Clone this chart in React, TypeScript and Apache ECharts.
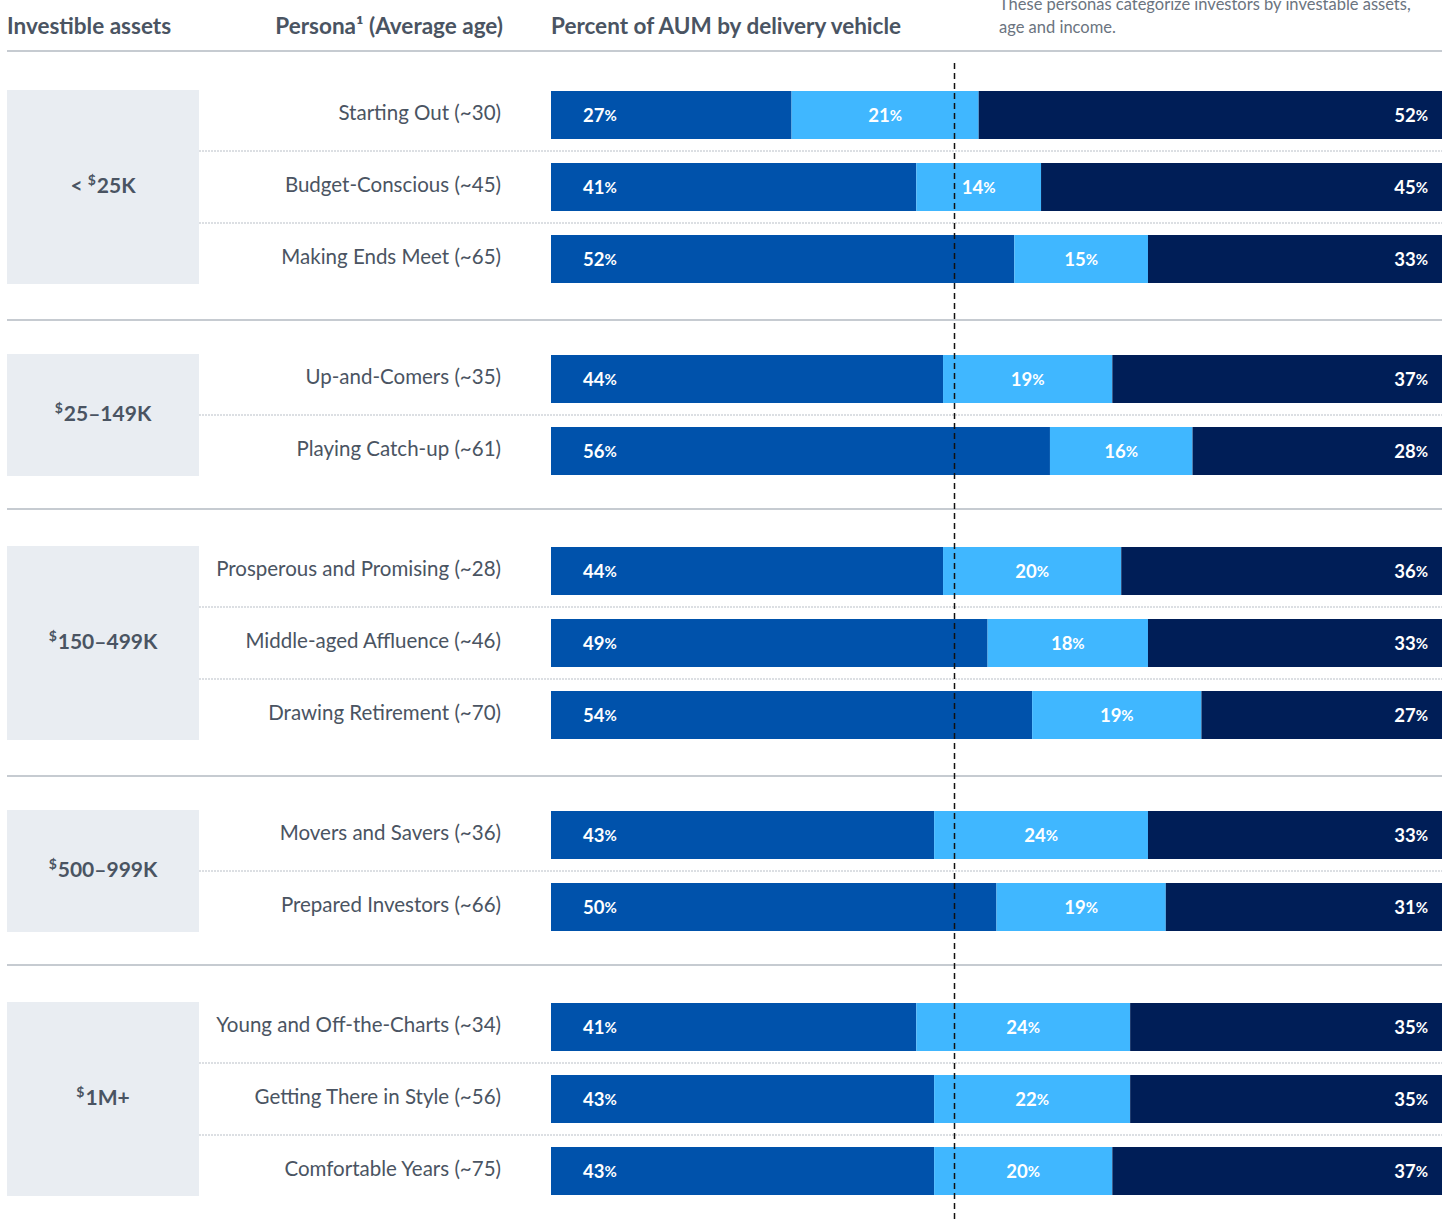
import React, { useEffect, useRef } from 'react';
import * as echarts from 'echarts';

// ---- data ----
const groupLabels = ['< $25K', '$25–149K', '$150–499K', '$500–999K', '$1M+'];
const groupSizes = [3, 2, 3, 2, 3];
const personas = [
  'Starting Out (~30)',
  'Budget-Conscious (~45)',
  'Making Ends Meet (~65)',
  'Up-and-Comers (~35)',
  'Playing Catch-up (~61)',
  'Prosperous and Promising (~28)',
  'Middle-aged Affluence (~46)',
  'Drawing Retirement (~70)',
  'Movers and Savers (~36)',
  'Prepared Investors (~66)',
  'Young and Off-the-Charts (~34)',
  'Getting There in Style (~56)',
  'Comfortable Years (~75)',
];
const vehicle1 = [27, 41, 52, 44, 56, 44, 49, 54, 43, 50, 41, 43, 43];
const vehicle2 = [21, 14, 15, 19, 16, 20, 18, 19, 24, 19, 24, 22, 20];
const vehicle3 = [52, 45, 33, 37, 28, 36, 33, 27, 33, 31, 35, 35, 37];
const referenceLine = 45.2;

// ---- styles / layout ----
const FONT = 'Lato, "Open Sans", sans-serif';
const TEXT = '#4a5462';
const COLORS = ['#0052ab', '#40b7ff', '#001e57'];
const groupTops = [79, 343, 535, 799, 991];
const ROW = 72;
const BAR_LEFT = 551;
const W = 1442;
const H = 1221;

export default function App() {
  const ref = useRef<HTMLDivElement>(null);
  useEffect(() => {
    if (!ref.current) return;
    const chart = echarts.init(ref.current, undefined, { renderer: 'svg' });
    const grids: any[] = [];
    const xAxes: any[] = [];
    const yAxes: any[] = [];
    const series: any[] = [];
    const graphics: any[] = [];
    let start = 0;
    const vals = [vehicle1, vehicle2, vehicle3];
    groupSizes.forEach((n, g) => {
      const top = groupTops[g];
      grids.push({ left: BAR_LEFT, width: W - BAR_LEFT, top, height: n * ROW, containLabel: false });
      xAxes.push({ gridIndex: g, type: 'value', min: 0, max: 100, show: false });
      yAxes.push({
        gridIndex: g,
        type: 'category',
        inverse: true,
        data: personas.slice(start, start + n),
        axisLine: { show: false },
        axisTick: { show: false },
        splitLine: { show: false },
        axisLabel: {
          margin: 50,
          formatter: (v: string) => `{a|${v}}`,
          rich: {
            a: {
              fontSize: 20.5,
              color: TEXT,
              fontFamily: FONT,
              lineHeight: 24,
              padding: [0, 0, 6, 0],
            },
          },
        },
      });
      vals.forEach((arr, k) => {
        series.push({
          type: 'bar',
          name: 'Vehicle ' + (k + 1),
          xAxisIndex: g,
          yAxisIndex: g,
          stack: 'g' + g,
          barWidth: 48,
          itemStyle: { color: COLORS[k] },
          data: arr.slice(start, start + n),
          label: {
            show: true,
            position: k === 0 ? 'insideLeft' : k === 1 ? 'inside' : 'insideRight',
            distance: k === 0 ? 32 : k === 2 ? 14 : 5,
            formatter: (p: any) => `{v|${p.value}}{p|%}`,
            rich: {
              v: { fontSize: 18.5, fontWeight: 'bold', color: '#fff', fontFamily: FONT },
              p: { fontSize: 15, fontWeight: 'bold', color: '#fff', fontFamily: FONT },
            },
          },
        });
      });
      // gray box
      graphics.push({
        type: 'rect',
        shape: { x: 7, y: top + 11, width: 192, height: n * ROW - 22 },
        style: { fill: '#e9edf2' },
        z: 0,
      });
      const lbl = groupLabels[g];
      const m = lbl.match(/^(< )?\$(.*)$/);
      const richText = m ? `${m[1] ? '{t|< }' : ''}{s|$}{t|${m[2]}}` : `{t|${lbl}}`;
      graphics.push({
        type: 'text',
        x: 103,
        y: top + (n * ROW) / 2 - 3,
        style: {
          text: richText,
          align: 'center',
          verticalAlign: 'middle',
          rich: {
            t: { fontSize: 21, fontWeight: 'bold', fill: TEXT, fontFamily: FONT, lineHeight: 24 },
            s: { fontSize: 14, fontWeight: 'bold', fill: TEXT, fontFamily: FONT, lineHeight: 24, padding: [0, 1, 10, 0] },
          },
        },
        z: 5,
      });
      for (let i = 1; i < n; i++) {
        graphics.push({
          type: 'line',
          shape: { x1: 199, y1: top + i * ROW, x2: W, y2: top + i * ROW },
          style: { stroke: '#b9bfc7', lineWidth: 1, lineDash: [2, 1] },
          z: 1,
        });
      }
      start += n;
    });
    // separators
    [51, 320, 509, 776, 965].forEach((y) => {
      graphics.push({
        type: 'line',
        shape: { x1: 7, y1: y, x2: W, y2: y },
        style: { stroke: '#c6cbd1', lineWidth: 2 },
        z: 1,
      });
    });
    // headers
    const hStyle = { fontSize: 22.5, fontWeight: 'bold', fill: TEXT, fontFamily: FONT, verticalAlign: 'middle' };
    graphics.push({ type: 'text', x: 7, y: 25, style: { ...hStyle, text: 'Investible assets', align: 'left' } });
    graphics.push({ type: 'text', x: 503, y: 25, style: { ...hStyle, text: 'Persona¹ (Average age)', align: 'right' } });
    graphics.push({ type: 'text', x: 551, y: 25, style: { ...hStyle, text: 'Percent of AUM by delivery vehicle', align: 'left' } });
    graphics.push({
      type: 'text',
      x: 999,
      y: 38,
      style: {
        text: 'These personas categorize investors by investable assets,\nage and income.',
        fontSize: 16.5,
        lineHeight: 23,
        fill: '#6b7480',
        fontFamily: FONT,
        align: 'left',
        verticalAlign: 'bottom',
      },
    });

    chart.setOption({
      animation: false,
      grid: grids,
      xAxis: xAxes,
      yAxis: yAxes,
      series,
      graphic: { elements: graphics },
    });
    const px = chart.convertToPixel({ gridIndex: 0 }, [referenceLine, 0]) as number[];
    const x = Math.round(px[0]) + 0.5;
    chart.setOption({
      graphic: {
        elements: [
          ...graphics,
          {
            type: 'line',
            shape: { x1: x, y1: 63, x2: x, y2: H },
            style: { stroke: '#111', lineWidth: 1.5, lineDash: [6, 4] },
            z: 100,
          },
        ],
      },
    });
    return () => chart.dispose();
  }, []);
  return <div ref={ref} style={{ position: 'absolute', left: 0, top: 0, width: W, height: H }} />;
}
